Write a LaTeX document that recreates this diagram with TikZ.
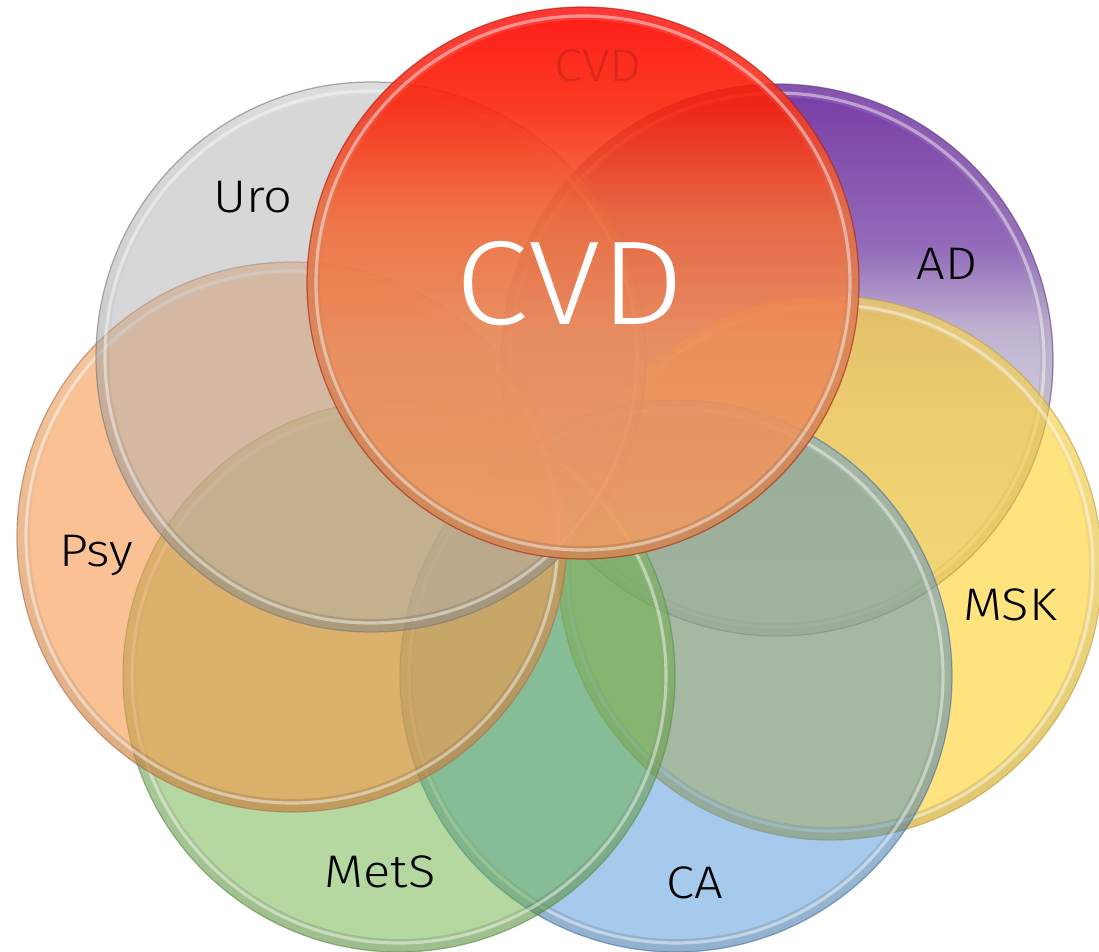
\documentclass[tikz,border=0pt]{standalone}
\usepackage{fontspec}
\IfFontExistsTF{Fira Sans Light}
  {\setmainfont{Fira Sans Light}[FakeStretch=1.11]}
  {\setmainfont{TeX Gyre Heros}}

% fill colours of the seven discs
\definecolor{adtop}{RGB}{112,48,160}
\definecolor{adup}{RGB}{142,100,182}
\definecolor{admid}{RGB}{186,172,206}
\definecolor{adlow}{RGB}{203,197,216}
\definecolor{adbot}{RGB}{230,229,235}
\definecolor{mskfill}{RGB}{255,208,40}
\definecolor{cafill}{RGB}{49,132,211}
\definecolor{metsfill}{RGB}{105,177,65}
\definecolor{psyfill}{RGB}{247,150,70}
\definecolor{urofill}{RGB}{175,175,175}
\definecolor{cvdtop}{RGB}{255,4,0}
\definecolor{cvdup}{RGB}{250,36,10}
\definecolor{cvdmid}{RGB}{241,106,56}
\definecolor{cvdlow}{RGB}{236,138,88}
\definecolor{cvdbot}{RGB}{240,158,100}
% outline colours
\definecolor{adrim}{RGB}{90,60,130}
\definecolor{mskrim}{RGB}{190,160,60}
\definecolor{carim}{RGB}{70,110,160}
\definecolor{metsrim}{RGB}{90,140,70}
\definecolor{psyrim}{RGB}{170,110,80}
\definecolor{urorim}{RGB}{120,120,120}
\definecolor{cvdrim}{RGB}{170,30,10}

% vertical colour runs (0bp = bottom, the disc spans 25bp..75bp)
\pgfdeclareverticalshading{adshade}{100bp}{%
  color(0bp)=(adbot); color(25bp)=(adbot); color(46bp)=(adlow);
  color(53bp)=(admid); color(60bp)=(adup); color(75bp)=(adtop); color(100bp)=(adtop)}
\pgfdeclareverticalshading{cvdshade}{100bp}{%
  color(0bp)=(cvdbot); color(25bp)=(cvdbot); color(45bp)=(cvdlow);
  color(56bp)=(cvdmid); color(66bp)=(cvdup); color(75bp)=(cvdtop); color(100bp)=(cvdtop)}

% a translucent disc with a glassy bevelled rim:
% #1 centre, #2 radius, #3 fill/shading options, #4 outline colour
\newcommand\glassdisc[4]{%
  \shade[#3] (#1) circle[radius=#2];
  \shade[even odd rule, top color=white, bottom color=black, fill opacity=0.12]
    (#1) circle[radius=#2] (#1) circle[radius=#2-13];
  \draw[#4, rim] (#1) circle[radius=#2];
  \draw[gloss] (#1) circle[radius=#2-9];
}

\begin{document}
\begin{tikzpicture}[x=0.02cm, y=-0.02cm,
  rim/.style={line width=0.7pt, draw opacity=0.6},
  gloss/.style={white, line width=1.8pt, draw opacity=0.45},
  lbl/.style={font=\fontsize{26}{30}\selectfont, text=black, anchor=base, inner sep=0pt},
  biglbl/.style={font=\fontsize{68}{72}\selectfont, text=white, anchor=base, inner sep=0pt},
]
\useasboundingbox (0,0) rectangle (1099,952);
\clip (0,0) rectangle (1099,952);

% disc centres
\coordinate (cAD)   at (777,360);
\coordinate (cMSK)  at (830,568);
\coordinate (cCA)   at (676,676);
\coordinate (cMetS) at (399,676);
\coordinate (cPsy)  at (292,537);
\coordinate (cUro)  at (371,357);
\coordinate (cCVD)  at (583,283);

% discs, back to front
\glassdisc{cAD}{276}{shading=adshade, fill opacity=0.95}{adrim}
\glassdisc{cMSK}{272}{top color=mskfill, bottom color=mskfill, fill opacity=0.6}{mskrim}
\glassdisc{cCA}{276}{top color=cafill, bottom color=cafill, fill opacity=0.43}{carim}
\glassdisc{cMetS}{276}{top color=metsfill, bottom color=metsfill, fill opacity=0.5}{metsrim}
\glassdisc{cPsy}{275}{top color=psyfill, bottom color=psyfill, fill opacity=0.58}{psyrim}
\glassdisc{cUro}{275}{top color=urofill, bottom color=urofill, fill opacity=0.5}{urorim}
\glassdisc{cCVD}{276}{shading=cvdshade, fill opacity=0.9}{cvdrim}

% labels
\node[lbl, text=black, text opacity=0.14] (tCVDsmall) at (598,82) {CVD};
\node[biglbl] (tCVD) at (570,325) {CVD};
\node[lbl] (tUro)  at (253,213) {Uro};
\node[lbl] (tAD)   at (947,280) {AD};
\node[lbl] (tMSK)  at (1010,621) {MSK};
\node[lbl] (tPsy)  at (96,567)  {Psy};
\node[lbl] (tMetS) at (380,887) {MetS};
\node[lbl] (tCA)   at (695,898) {CA};
\end{tikzpicture}
\end{document}
